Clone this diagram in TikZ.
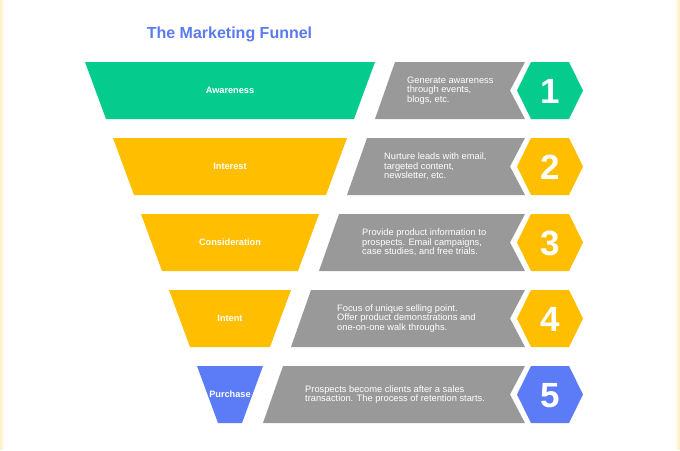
\documentclass[tikz,border=0pt]{standalone}
\usepackage{fontspec}
\setmainfont{Liberation Sans}
\definecolor{fgreen}{HTML}{05CB8C}
\definecolor{fyellow}{HTML}{FFBE00}
\definecolor{fblue}{HTML}{5B7CF6}
\definecolor{fgray}{HTML}{999999}
\definecolor{ftitle}{HTML}{5B7BF0}
\definecolor{fedge}{HTML}{FFF2CC}
\begin{document}
\begin{tikzpicture}[x=1pt,y=-1pt,
  stagelabel/.style={text=white,font=\fontsize{9.2}{10}\selectfont\bfseries,inner sep=0pt},
  desc/.style={text=white,font=\fontsize{9.3}{9.7}\selectfont,align=left,anchor=west,inner sep=0pt},
  digit/.style={text=white,font=\fontsize{35}{36}\selectfont\bfseries,inner sep=0pt}]
\useasboundingbox (0,0) rectangle (680,450);
\fill[white] (0,0) rectangle (680,450);
\fill[fedge] (0,0) rectangle (3,450);
\fill[fedge] (677,0) rectangle (680,450);
\node[text=ftitle,font=\fontsize{16}{18}\selectfont\bfseries,inner sep=0pt] (title) at (229.5,34) {The Marketing Funnel};
\foreach \i/\col/\lab/\num in {0/fgreen/Awareness/1,1/fyellow/Interest/2,2/fyellow/Consideration/3,3/fyellow/Intent/4,4/fblue/Purchase/5}{
  \pgfmathsetmacro\T{62+76*\i}
  \pgfmathsetmacro\B{\T+57}
  \pgfmathsetmacro\M{\T+28.5}
  \pgfmathsetmacro\d{28*\i}
  \fill[\col] ({85+\d},\T) -- ({375-\d},\T) -- ({354-\d},\B) -- ({106+\d},\B) -- cycle;
  \fill[fgray] ({395-\d},\T) -- (525,\T) -- (510,\M) -- (525,\B) -- ({375-\d},\B) -- cycle;
  \fill[\col] (517,\M) -- (531,\T) -- (569,\T) -- (583,\M) -- (569,\B) -- (531,\B) -- cycle;
  \node[stagelabel] (lab\i) at (230,\M) {\lab};
  \node[digit] (num\i) at (550,{\M+1}) {\num};
}
\node[desc] (d0) at (407,90.5) {Generate awareness\\through events,\\blogs, etc.};
\node[desc] (d1) at (384,166.5) {Nurture leads with email,\\targeted content,\\newsletter, etc.};
\node[desc] (d2) at (362,242.5) {Provide product information to\\prospects. Email campaigns,\\case studies, and free trials.};
\node[desc] (d3) at (337,318.5) {Focus of unique selling point.\\Offer product demonstrations and\\one-on-one walk throughs.};
\node[desc] (d4) at (305,394.5) {Prospects become clients after a sales\\transaction. The process of retention starts.};
\end{tikzpicture}
\end{document}
